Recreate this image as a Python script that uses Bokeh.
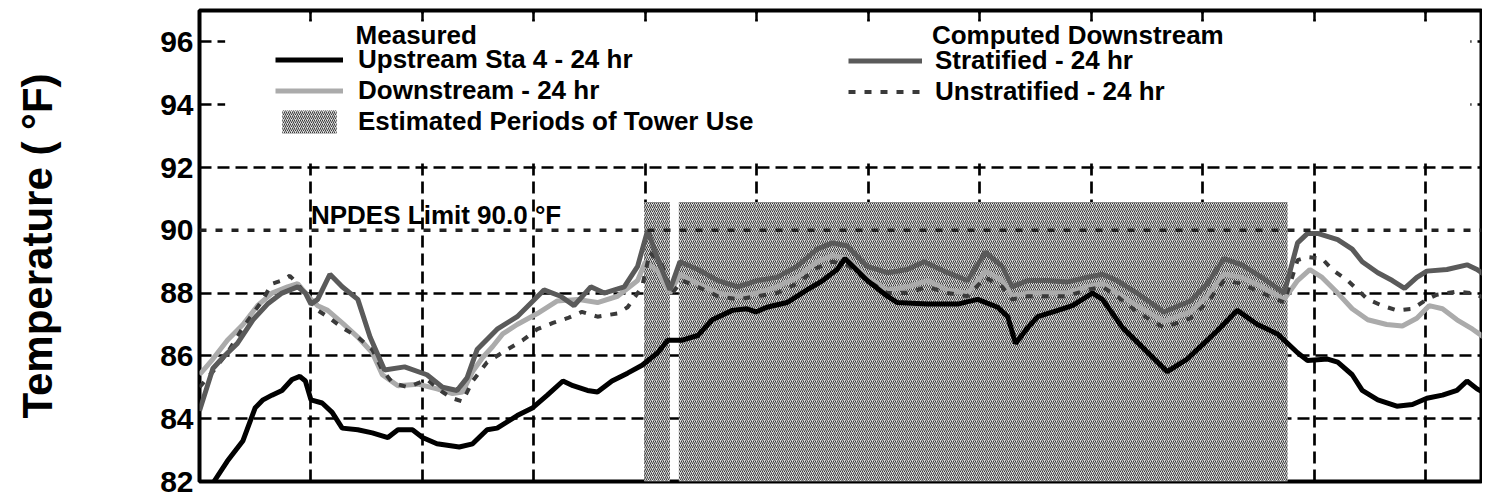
from bokeh.plotting import figure
from bokeh.models import (Range1d, FixedTicker, LinearAxis, BoxAnnotation, Span,
                          Label, Legend, LegendItem)
from bokeh.embed import file_html
from bokeh.resources import INLINE

FONT = "Liberation Sans"

# ---------------- data (x in days, temperatures in deg F) ----------------
Y_MIN, Y_MAX = 82.0, 97.0
X_MAX = 11.50
Y_TICKS = [82, 84, 86, 88, 90, 92, 94, 96]
GRID_Y = [84, 86, 88, 92, 94, 96]
DAY_TICKS = [1, 2, 3, 4, 5, 6, 7, 8, 9, 10, 11]
NPDES_LIMIT = 90.0

TOWER_START = [3.99, 4.30]
TOWER_END = [4.22, 9.76]
TOWER_TOP = [90.9, 90.9]

UP_DAY = [0.13, 0.25, 0.39, 0.50, 0.57, 0.65, 0.74, 0.83, 0.90, 0.95, 1.00, 1.10, 1.19, 1.28,
          1.42, 1.55, 1.69, 1.78, 1.91, 2.00, 2.13, 2.33, 2.45, 2.58, 2.67, 2.85, 2.99, 3.12,
          3.26, 3.35, 3.48, 3.57, 3.70, 3.84, 3.97, 4.11, 4.20, 4.33, 4.47, 4.60, 4.78, 4.91,
          4.99, 5.09, 5.27, 5.45, 5.59, 5.72, 5.79, 5.99, 6.17, 6.26, 6.53, 6.80, 6.98, 7.16,
          7.25, 7.32, 7.43, 7.52, 7.70, 7.83, 8.01, 8.10, 8.28, 8.48, 8.68, 8.86, 9.01, 9.13,
          9.31, 9.49, 9.67, 9.85, 9.94, 10.12, 10.21, 10.34, 10.43, 10.57, 10.74, 10.88, 11.01,
          11.15, 11.28, 11.37, 11.46, 11.56]
UP_T = [82.0, 82.65, 83.3, 84.35, 84.6, 84.75, 84.9, 85.25, 85.35, 85.2, 84.6, 84.5, 84.2, 83.7,
        83.65, 83.55, 83.4, 83.65, 83.65, 83.4, 83.2, 83.1, 83.2, 83.65, 83.7, 84.1, 84.35, 84.75,
        85.2, 85.05, 84.9, 84.85, 85.2, 85.45, 85.7, 86.1, 86.5, 86.5, 86.65, 87.15, 87.45, 87.5,
        87.4, 87.55, 87.7, 88.1, 88.4, 88.75, 89.1, 88.4, 87.9, 87.7, 87.65, 87.65, 87.8, 87.55,
        87.25, 86.4, 86.9, 87.25, 87.45, 87.6, 88.0, 87.8, 86.9, 86.2, 85.5, 85.9, 86.4, 86.8,
        87.45, 87.0, 86.7, 86.1, 85.85, 85.9, 85.8, 85.4, 84.9, 84.6, 84.4, 84.45, 84.65,
        84.75, 84.9, 85.2, 84.95, 84.75]

DN_DAY = [0.00, 0.12, 0.25, 0.39, 0.52, 0.65, 0.79, 0.88, 1.00, 1.06, 1.15, 1.28, 1.42, 1.55,
          1.64, 1.78, 1.96, 2.13, 2.27, 2.36, 2.45, 2.54, 2.63, 2.72, 2.85, 3.03, 3.21, 3.39,
          3.57, 3.75, 3.93, 4.00, 4.11, 4.22, 4.31, 4.47, 4.65, 4.83, 5.00, 5.18, 5.36, 5.54,
          5.68, 5.81, 5.99, 6.17, 6.35, 6.53, 6.71, 6.89, 7.05, 7.20, 7.29, 7.43, 7.61, 7.78,
          7.96, 8.10, 8.23, 8.41, 8.65, 8.89, 9.04, 9.19, 9.35, 9.53, 9.73, 9.85, 9.96, 10.07,
          10.21, 10.34, 10.48, 10.65, 10.79, 10.92, 11.03, 11.15, 11.28, 11.42, 11.56]
DN_T = [85.4, 85.9, 86.5, 87.0, 87.6, 88.0, 88.2, 88.3, 87.8, 87.6, 87.45, 87.05, 86.6, 86.1,
        85.4, 85.05, 85.1, 84.95, 84.8, 84.85, 85.5, 85.95, 86.3, 86.7, 87.0, 87.35, 87.75, 87.8,
        87.7, 87.9, 88.4, 89.0, 88.7, 88.0, 88.6, 88.3, 88.0, 87.9, 88.0, 88.2, 88.5, 89.0,
        89.2, 89.1, 88.5, 88.1, 88.2, 88.4, 88.1, 88.0, 88.7, 88.4, 87.9, 88.0, 88.0, 88.0,
        88.2, 88.3, 88.0, 87.6, 87.1, 87.4, 87.9, 88.6, 88.5, 88.2, 87.8, 88.4, 88.75, 88.5,
        88.0, 87.5, 87.15, 87.0, 86.95, 87.2, 87.6, 87.5, 87.15, 86.85, 86.5]

ST_DAY = [0.00, 0.12, 0.21, 0.34, 0.48, 0.61, 0.74, 0.88, 0.95, 1.00, 1.06, 1.17, 1.28, 1.42,
          1.53, 1.66, 1.84, 2.04, 2.18, 2.31, 2.40, 2.49, 2.67, 2.85, 3.09, 3.24, 3.36, 3.51,
          3.63, 3.81, 3.93, 4.02, 4.11, 4.22, 4.31, 4.47, 4.65, 4.83, 5.00, 5.18, 5.36, 5.54,
          5.68, 5.81, 5.99, 6.17, 6.35, 6.50, 6.71, 6.89, 7.05, 7.20, 7.29, 7.43, 7.61, 7.78,
          7.96, 8.10, 8.23, 8.41, 8.65, 8.89, 9.04, 9.19, 9.35, 9.53, 9.73, 9.85, 9.94, 10.03,
          10.21, 10.34, 10.43, 10.57, 10.70, 10.81, 10.92, 11.01, 11.19, 11.37, 11.46, 11.56]
ST_T = [84.25, 85.6, 85.95, 86.4, 87.15, 87.65, 88.0, 88.2, 88.0, 87.65, 87.8, 88.6, 88.2, 87.8,
        86.6, 85.55, 85.65, 85.4, 85.0, 84.9, 85.3, 86.2, 86.85, 87.25, 88.1, 87.9, 87.6, 88.2,
        88.0, 88.2, 88.85, 90.0, 89.1, 88.1, 89.0, 88.75, 88.4, 88.2, 88.4, 88.5, 88.85, 89.4,
        89.6, 89.5, 88.85, 88.65, 88.75, 89.0, 88.65, 88.4, 89.3, 88.85, 88.2, 88.4, 88.4, 88.35,
        88.5, 88.6, 88.4, 88.0, 87.4, 87.75, 88.3, 89.1, 88.9, 88.5, 88.0, 89.6, 89.9, 89.9,
        89.7, 89.4, 89.0, 88.65, 88.4, 88.15, 88.5, 88.7, 88.75, 88.9, 88.75, 88.5]

UN_DAY = [0.00, 0.12, 0.25, 0.39, 0.57, 0.65, 0.74, 0.81, 0.88, 1.00, 1.06, 1.15, 1.28, 1.42,
          1.55, 1.64, 1.73, 1.87, 2.04, 2.18, 2.27, 2.36, 2.45, 2.58, 2.76, 2.90, 3.03, 3.17,
          3.30, 3.43, 3.57, 3.75, 3.84, 3.97, 4.04, 4.15, 4.24, 4.33, 4.47, 4.65, 4.83, 5.00,
          5.18, 5.36, 5.54, 5.68, 5.81, 5.99, 6.17, 6.35, 6.53, 6.71, 6.89, 7.05, 7.20, 7.29,
          7.43, 7.61, 7.78, 7.96, 8.10, 8.23, 8.41, 8.65, 8.89, 9.04, 9.19, 9.35, 9.53, 9.73,
          9.85, 9.94, 10.07, 10.16, 10.30, 10.39, 10.48, 10.61, 10.74, 10.88, 11.01, 11.10,
          11.28, 11.42, 11.56]
UN_T = [85.0, 85.5, 86.1, 86.9, 87.8, 88.3, 88.4, 88.55, 88.3, 87.7, 87.45, 87.25, 86.9, 86.6,
        86.2, 85.55, 85.15, 85.0, 85.25, 84.85, 84.65, 84.55, 85.2, 85.8, 86.2, 86.5, 86.85, 87.05,
        87.2, 87.4, 87.25, 87.35, 87.55, 88.2, 89.3, 88.9, 88.0, 88.4, 88.2, 87.9, 87.8, 87.9,
        88.0, 88.3, 88.8, 89.0, 88.9, 88.4, 88.0, 88.0, 88.2, 88.0, 87.9, 88.5, 88.2, 87.8,
        87.9, 87.9, 87.9, 88.1, 88.2, 87.9, 87.4, 86.9, 87.2, 87.7, 88.4, 88.3, 88.0, 87.7,
        89.05, 89.15, 89.1, 88.75, 88.4, 88.1, 87.8, 87.6, 87.45, 87.5, 87.8, 87.95,
        88.05, 88.0, 87.8]

# ---------------- figure ----------------
p = figure(width=1482, height=496, output_backend="svg", toolbar_location=None,
           x_range=Range1d(0, X_MAX), y_range=Range1d(Y_MIN, Y_MAX),
           x_axis_location=None,
           min_border_left=199, min_border_right=1, min_border_top=10, min_border_bottom=15)
p.background_fill_color = "white"
p.border_fill_color = "white"
p.outline_line_color = "black"
p.outline_line_width = 4

# y axis
p.yaxis.ticker = FixedTicker(ticks=Y_TICKS)
p.yaxis.major_label_text_font = FONT
p.yaxis.major_label_text_font_size = "30px"
p.yaxis.major_label_text_font_style = "bold"
p.yaxis.major_label_text_color = "black"
p.yaxis.major_label_standoff = 6
p.yaxis.major_tick_in = 0
p.yaxis.major_tick_out = 0
p.yaxis.minor_tick_in = 0
p.yaxis.minor_tick_out = 0
p.yaxis.axis_line_color = None
p.yaxis.axis_label = "Temperature ( °F)"
p.yaxis.axis_label_text_font = FONT
p.yaxis.axis_label_text_font_size = "42px"
p.yaxis.axis_label_text_font_style = "bold"
p.yaxis.axis_label_text_color = "black"
p.yaxis.axis_label_standoff = 96

# top tick marks
top_axis = LinearAxis(ticker=FixedTicker(ticks=DAY_TICKS),
                      major_label_overrides={t: "" for t in DAY_TICKS},
                      major_label_text_font_size="0px", major_label_standoff=0,
                      major_tick_in=10, major_tick_out=0, minor_tick_in=0, minor_tick_out=0,
                      major_tick_line_width=2.5, major_tick_line_color="black",
                      axis_line_color=None)
p.add_layout(top_axis, "above")

# grids
p.xgrid.ticker = FixedTicker(ticks=DAY_TICKS)
p.ygrid.ticker = FixedTicker(ticks=GRID_Y)
for g in (p.xgrid, p.ygrid):
    g.grid_line_color = "black"
    g.grid_line_width = 2.7
    g.grid_line_dash = "12 6"
    g.grid_line_alpha = 1.0

# tower-use periods
r_tower = p.quad(left=TOWER_START, right=TOWER_END, bottom=[Y_MIN] * len(TOWER_START),
                 top=TOWER_TOP, fill_color="#dcdcdc", line_color=None,
                 hatch_pattern="right_diagonal_line", hatch_color="#3a3a3a",
                 hatch_scale=4, hatch_weight=1.0)

# series
r_dn = p.line(DN_DAY, DN_T, line_color="#ababab", line_width=5)
r_un = p.line(UN_DAY, UN_T, line_color="#3a3a3a", line_width=4, line_dash="7 9")
r_st = p.line(ST_DAY, ST_T, line_color="#5a5a5a", line_width=5)
r_up = p.line(UP_DAY, UP_T, line_color="black", line_width=5)

# NPDES limit
p.add_layout(Span(location=NPDES_LIMIT, dimension="width", line_color="#222222",
                  line_width=3.5, line_dash="7 9"))
p.add_layout(Label(x=1.0, y=90.5, text="NPDES Limit 90.0 °F", text_font=FONT,
                   text_font_size="26px", text_font_style="bold", text_color="black",
                   text_baseline="alphabetic"))

# legend background
p.add_layout(BoxAnnotation(left=0.23, right=11.40, bottom=92.15, top=96.65,
                           fill_color="white", fill_alpha=1.0, line_color=None))

# legend headings
for hx, htxt in [(1.40, "Measured"), (6.57, "Computed Downstream")]:
    p.add_layout(Label(x=hx, y=96.21, text=htxt, text_font=FONT, text_font_size="26px",
                       text_font_style="bold", text_color="black", text_baseline="alphabetic"))

common = dict(padding=0, margin=0, spacing=0, border_line_color=None,
              background_fill_alpha=0, label_text_font=FONT, label_text_font_size="26px",
              label_text_font_style="bold", label_text_color="black",
              glyph_height=29, label_height=29)

leg1 = Legend(items=[LegendItem(label="Upstream Sta 4 - 24 hr", renderers=[r_up]),
                     LegendItem(label="Downstream - 24 hr", renderers=[r_dn]),
                     LegendItem(label="Estimated Periods of Tower Use", renderers=[r_tower])],
              location=(76, 344), glyph_width=68, label_standoff=15, **common)
leg2 = Legend(items=[LegendItem(label="Stratified - 24 hr", renderers=[r_st]),
                     LegendItem(label="Unstratified - 24 hr", renderers=[r_un])],
              location=(649, 374), glyph_width=74, label_standoff=13, **common)
p.add_layout(leg1)
p.add_layout(leg2)

open("out.html", "w").write(file_html(p, INLINE))
